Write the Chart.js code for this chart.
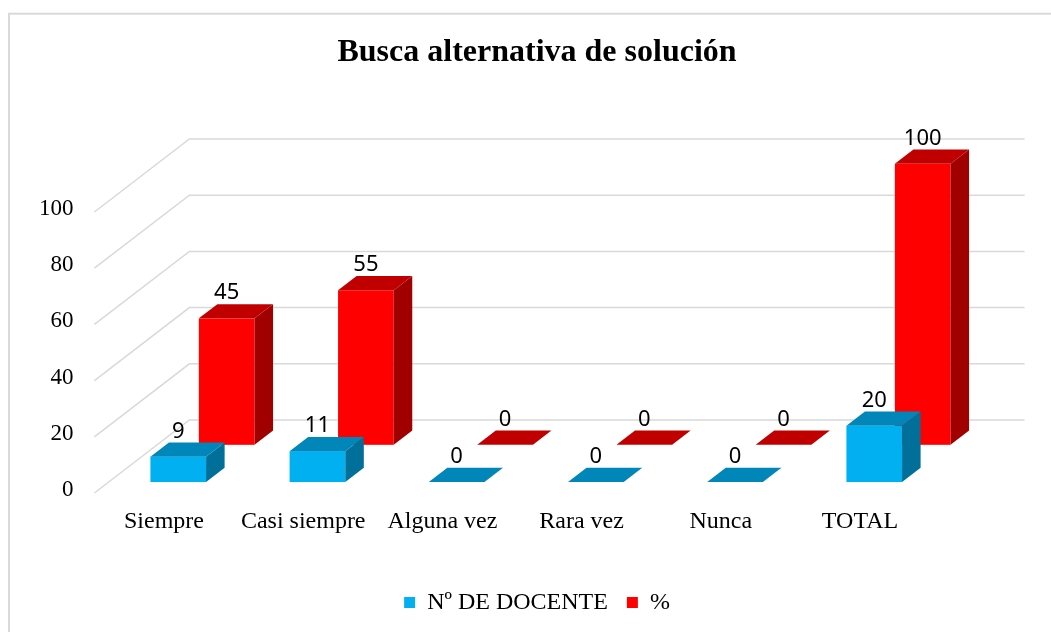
<!DOCTYPE html>
<html>
<head>
<meta charset="utf-8">
<script src="https://cdn.jsdelivr.net/npm/chart.js@4.4.1/dist/chart.umd.min.js"></script>
<style>
  html, body { margin: 0; padding: 0; background: #fff; overflow: hidden; }
  #wrap { width: 1051px; height: 632px; overflow: hidden; }
  canvas { display: block; }
</style>
</head>
<body>
<div id="wrap"><canvas id="chart" width="1075" height="650"></canvas></div>
<script>
// ── datos ────────────────────────────────────────────────
const CATEGORIES   = ["Siempre", "Casi siempre", "Alguna vez", "Rara vez", "Nunca", "TOTAL"];
const DOCENTES     = [9, 11, 0, 0, 0, 20];
const PORCENTAJE   = [45, 55, 0, 0, 0, 100];
const SERIES_NAMES = ["Nº DE DOCENTE", "%"];
const Y_TICKS      = [0, 20, 40, 60, 80, 100];

// ── estilo 3D ────────────────────────────────────────────
const SERIF = "'Liberation Serif', 'Times New Roman', serif";
const WALL  = { dx: 95, dy: -73 };   // vector de profundidad del piso
const ROW_Z = [0.15, 0.66];          // fila de cada serie (0 = frente)
const BAR_Z = 0.195;                 // profundidad propia de cada barra
const FACES = [
  { front: "#00B0F0", top: "#0086B8", side: "#00709A" },
  { front: "#FF0000", top: "#C00000", side: "#A00000" },
];
const GRID_COLOR = "#d9d9d9";

function poly(ctx, pts, color) {
  ctx.beginPath();
  ctx.moveTo(pts[0][0], pts[0][1]);
  for (let i = 1; i < pts.length; i++) ctx.lineTo(pts[i][0], pts[i][1]);
  ctx.closePath();
  ctx.fillStyle = color;
  ctx.fill();
}

const bar3d = {
  id: "bar3d",
  beforeDraw(chart) {
    const { ctx, chartArea: a, scales: { y } } = chart;
    ctx.save();
    // marco del gráfico
    ctx.strokeStyle = GRID_COLOR;
    ctx.lineWidth = 2;
    ctx.strokeRect(9, 13.7, chart.width - 17, chart.height - 20);
    // pared lateral + pared del fondo
    ctx.lineWidth = 1.5;
    y.ticks.forEach(t => {
      const py = y.getPixelForValue(t.value);
      ctx.beginPath();
      ctx.moveTo(a.left, py);
      ctx.lineTo(a.left + WALL.dx, py + WALL.dy);
      ctx.lineTo(a.right + WALL.dx, py + WALL.dy);
      ctx.stroke();
    });
    ctx.restore();
  },
  beforeDatasetsDraw(chart) {
    const ctx = chart.ctx;
    const tx = WALL.dx * BAR_Z, ty = WALL.dy * BAR_Z;
    ctx.save();
    // fondo primero, frente después
    [1, 0].forEach(di => {
      const meta = chart.getDatasetMeta(di);
      const vals = chart.data.datasets[di].data;
      const col  = FACES[di];
      const ox = WALL.dx * ROW_Z[di], oy = WALL.dy * ROW_Z[di];
      meta.data.forEach((el, i) => {
        const x0 = el.x - el.width / 2 + ox, x1 = el.x + el.width / 2 + ox;
        const yt = el.y + oy, yb = el.base + oy;
        ctx.fillStyle = col.front;
        ctx.fillRect(x0, yt, x1 - x0, yb - yt);
        poly(ctx, [[x1, yt], [x1 + tx, yt + ty], [x1 + tx, yb + ty], [x1, yb]], col.side);
        poly(ctx, [[x0, yt], [x1, yt], [x1 + tx, yt + ty], [x0 + tx, yt + ty]], col.top);
        ctx.fillStyle = "#000";
        ctx.font = "22px 'Noto Sans', 'Open Sans', sans-serif";
        ctx.textAlign = "center";
        ctx.textBaseline = "alphabetic";
        ctx.fillText(String(vals[i]), (x0 + x1) / 2, yt - 19);
      });
    });
    ctx.restore();
    return false;
  },
};

new Chart(document.getElementById("chart").getContext("2d"), {
  type: "bar",
  data: {
    labels: CATEGORIES,
    datasets: [
      { label: SERIES_NAMES[0], data: DOCENTES,   backgroundColor: FACES[0].front, borderWidth: 0 },
      { label: SERIES_NAMES[1], data: PORCENTAJE, backgroundColor: FACES[1].front, borderWidth: 0 },
    ],
  },
  options: {
    responsive: false,
    animation: false,
    events: [],
    layout: { padding: { left: 9, right: 10, top: 13, bottom: 25.5 } },
    datasets: { bar: { grouped: false, barPercentage: 0.4, categoryPercentage: 1.0 } },
    scales: {
      x: {
        grid: { display: false, drawTicks: false },
        border: { display: false },
        ticks: { padding: 14.5, color: "#000", font: { family: SERIF, size: 24 } },
        afterFit: s => { s.height = 78.5; },
      },
      y: {
        min: Y_TICKS[0],
        max: Y_TICKS[Y_TICKS.length - 1],
        afterBuildTicks: s => { s.ticks = Y_TICKS.map(v => ({ value: v })); },
        grid: { display: false, drawTicks: false },
        border: { display: false },
        ticks: { padding: 21, labelOffset: -3, color: "#000", font: { family: SERIF, size: 23 } },
        afterFit: s => { s.width = 85.4; },
      },
      yR: {
        position: "right",
        grid: { display: false, drawTicks: false },
        border: { display: false },
        ticks: { display: false },
        afterFit: s => { s.width = 135.4; },
      },
    },
    plugins: {
      title: {
        display: true,
        text: "Busca alternativa de solución",
        color: "#000",
        font: { family: SERIF, size: 32, weight: "bold" },
        padding: { top: 21, bottom: 139.6 },
      },
      legend: {
        position: "bottom",
        labels: { boxWidth: 11, boxHeight: 11, padding: 19, color: "#000", font: { family: SERIF, size: 24 } },
      },
      tooltip: { enabled: false },
    },
  },
  plugins: [bar3d],
});
</script>
</body>
</html>
